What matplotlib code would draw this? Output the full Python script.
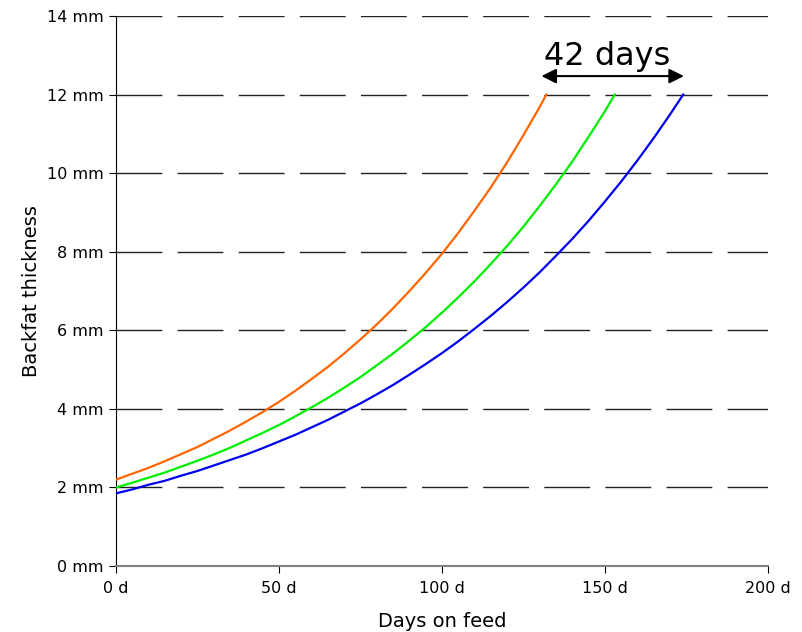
import matplotlib.pyplot as plt
from matplotlib.ticker import MultipleLocator, FuncFormatter

# Backfat curves (days on feed -> mm)
orange_days = [0, 5, 10, 15, 20, 25, 30, 35, 40, 45, 50, 55, 60, 65, 70, 75, 80, 85, 90,
               95, 100, 105, 110, 115, 120, 125, 130, 132]
orange_mm = [2.20, 2.35, 2.50, 2.67, 2.85, 3.03, 3.24, 3.45, 3.68, 3.92, 4.18, 4.46, 4.76,
             5.07, 5.41, 5.77, 6.15, 6.56, 7.00, 7.46, 7.95, 8.48, 9.05, 9.64, 10.28, 10.97,
             11.69, 12.0]

green_days = [0, 5, 10, 15, 20, 25, 30, 35, 40, 45, 50, 55, 60, 65, 70, 75, 80, 85, 90,
              95, 100, 105, 110, 115, 120, 125, 130, 135, 140, 145, 150, 153]
green_mm = [2.00, 2.12, 2.25, 2.38, 2.53, 2.68, 2.84, 3.01, 3.20, 3.39, 3.59, 3.81, 4.04,
            4.28, 4.54, 4.81, 5.11, 5.41, 5.74, 6.08, 6.45, 6.84, 7.25, 7.69, 8.15, 8.64,
            9.17, 9.72, 10.30, 10.93, 11.58, 12.0]

blue_days = [0, 5, 10, 15, 20, 25, 30, 35, 40, 45, 50, 55, 60, 65, 70, 75, 80, 85, 90,
             95, 100, 105, 110, 115, 120, 125, 130, 135, 140, 145, 150, 155, 160, 165, 170, 174]
blue_mm = [1.85, 1.95, 2.07, 2.17, 2.30, 2.42, 2.56, 2.70, 2.84, 3.00, 3.17, 3.34, 3.53,
           3.72, 3.93, 4.14, 4.37, 4.61, 4.87, 5.14, 5.42, 5.72, 6.04, 6.37, 6.72, 7.09,
           7.48, 7.90, 8.33, 8.79, 9.28, 9.79, 10.33, 10.90, 11.50, 12.0]

arrow_start, arrow_end, arrow_y = 130.5, 174.2, 12.47
arrow_text = "42 days"

fig = plt.figure(figsize=(8.03, 6.32), dpi=100)
ax = fig.add_axes([0.1445, 0.1044, 0.8119, 0.8703])

# dashed horizontal gridlines
for yv in range(2, 15, 2):
    ax.axhline(yv, color="#222222", linewidth=1, linestyle=(0, (33, 11)), zorder=1)

ax.plot(orange_days, orange_mm, color="#FF6600", linewidth=1.6, zorder=3)
ax.plot(green_days, green_mm, color="#00EE00", linewidth=1.6, zorder=3)
ax.plot(blue_days, blue_mm, color="#0000EE", linewidth=1.6, zorder=3)

ax.annotate("", xy=(arrow_start, arrow_y), xytext=(arrow_end, arrow_y),
            arrowprops=dict(arrowstyle="<|-|>", color="black", lw=1.5,
                            mutation_scale=22, shrinkA=0, shrinkB=0))
ax.text(150.8, arrow_y + 0.1, arrow_text, ha="center", va="bottom", fontsize=23)

ax.set_xlim(0, 200)
ax.set_ylim(0, 14)
ax.xaxis.set_major_locator(MultipleLocator(50))
ax.yaxis.set_major_locator(MultipleLocator(2))
ax.xaxis.set_major_formatter(FuncFormatter(lambda v, p: f"{v:.0f} d"))
ax.yaxis.set_major_formatter(FuncFormatter(lambda v, p: f"{v:.0f} mm"))

ax.spines["top"].set_visible(False)
ax.spines["right"].set_visible(False)
ax.spines["left"].set_color("black")
ax.spines["bottom"].set_color("#808080")
ax.spines["bottom"].set_linewidth(1.5)
ax.tick_params(axis="x", colors="black", labelsize=11.5, length=5, pad=6)
ax.tick_params(axis="y", labelsize=11.5, length=5, pad=4)

ax.set_xlabel("Days on feed", fontsize=14, labelpad=11)
ax.set_ylabel("Backfat thickness", fontsize=14, labelpad=4)

fig.savefig("out.png", dpi=100)
